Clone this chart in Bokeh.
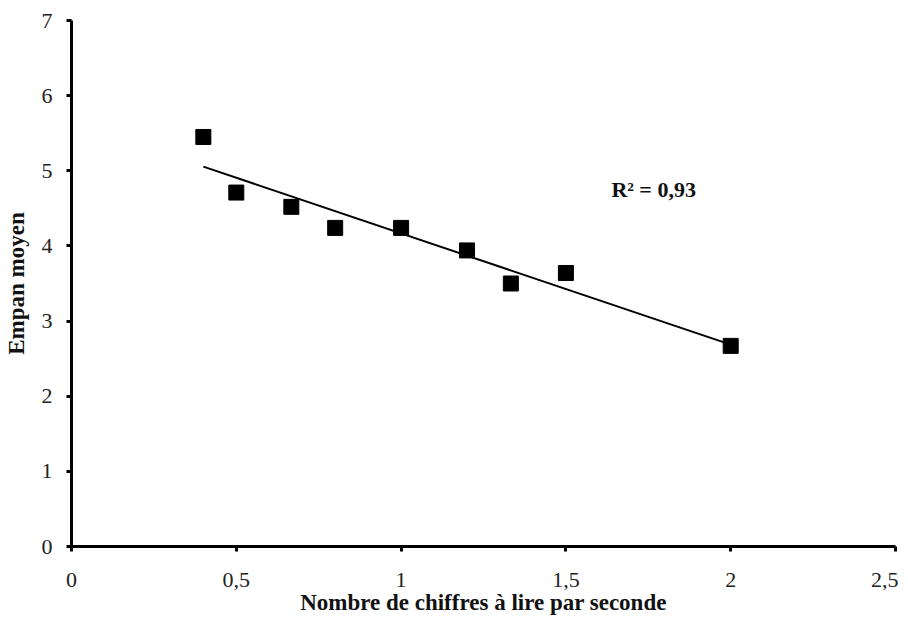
import numpy as np
from bokeh.plotting import figure
from bokeh.models import Range1d, FixedTicker, CustomJSTickFormatter, Label
from bokeh.embed import file_html
from bokeh.resources import INLINE

# Data
chiffres_par_seconde = [0.4, 0.5, 0.667, 0.8, 1.0, 1.2, 1.333, 1.5, 2.0]
empan_moyen = [5.45, 4.71, 4.52, 4.24, 4.24, 3.94, 3.50, 3.64, 2.67]
x_ticks = [0, 0.5, 1, 1.5, 2, 2.5]
y_ticks = [0, 1, 2, 3, 4, 5, 6, 7]
r2_label = "R² = 0,93"

FONT = "Liberation Serif"

p = figure(width=898, height=626, output_backend="svg", toolbar_location=None,
           x_range=Range1d(0, 2.5), y_range=Range1d(0, 7),
           min_border_left=66, min_border_right=3, min_border_top=20, min_border_bottom=80)
p.outline_line_color = None
p.grid.visible = False
p.background_fill_color = "white"
p.border_fill_color = "white"

# trend line from linear regression
slope, intercept = np.polyfit(chiffres_par_seconde, empan_moyen, 1)
xs = [min(chiffres_par_seconde), max(chiffres_par_seconde)]
ys = [slope * x + intercept for x in xs]
p.line(xs, ys, line_color="black", line_width=2)

p.scatter(chiffres_par_seconde, empan_moyen, marker="square", size=15,
          fill_color="black", line_color="black")

p.add_layout(Label(x=1.638, y=4.75, text=r2_label, text_font=FONT, text_font_style="bold",
                   text_font_size="22px", text_baseline="middle", text_color="#111111"))

fmt = CustomJSTickFormatter(code="return tick.toString().replace('.', ',');")
for ax, ticks in ((p.xaxis[0], x_ticks), (p.yaxis[0], y_ticks)):
    ax.ticker = FixedTicker(ticks=ticks)
    ax.formatter = fmt
    ax.axis_line_width = 3
    ax.axis_line_color = "black"
    ax.major_tick_line_width = 3
    ax.major_tick_line_color = "black"
    ax.major_tick_out = 5
    ax.major_tick_in = 0
    ax.minor_tick_line_color = None
    ax.major_label_text_font = FONT
    ax.major_label_text_font_size = "22px"
    ax.major_label_text_color = "#222222"
    ax.axis_label_text_font = FONT
    ax.axis_label_text_font_style = "bold"
    ax.axis_label_text_font_size = "23px"
    ax.axis_label_text_color = "#111111"

p.xaxis.axis_label = "Nombre de chiffres à lire par seconde"
p.yaxis.axis_label = "Empan moyen"
p.xaxis.major_label_standoff = 21
p.yaxis.major_label_standoff = 14
p.xaxis.axis_label_standoff = 0
p.yaxis.axis_label_standoff = 10

open("out.html", "w").write(file_html(p, INLINE))
